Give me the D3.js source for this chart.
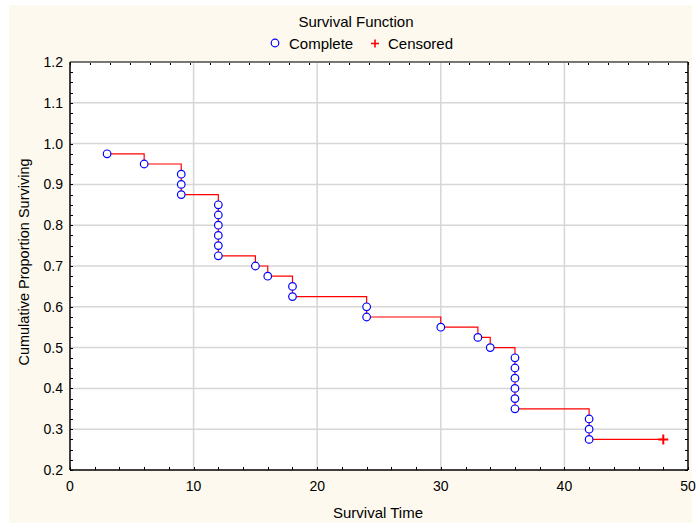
<!DOCTYPE html>
<html>
<head>
<meta charset="utf-8">
<script src="https://cdn.jsdelivr.net/npm/d3@7"></script>
<style>
  body { margin: 0; background: #ffffff; }
  svg text { font-family: "Liberation Sans", Arial, sans-serif; fill: #000; }
</style>
</head>
<body>
<svg width="696" height="525"></svg>
<script>
// survival data
var completeTimes = [3, 6, 9, 9, 9, 12, 12, 12, 12, 12, 12, 15, 16, 18, 18, 24, 24, 30, 33, 34, 36, 36, 36, 36, 36, 36, 42, 42, 42];
var completeSurv = [0.975, 0.95, 0.925, 0.9, 0.875, 0.85, 0.825, 0.8, 0.775, 0.75, 0.725, 0.7, 0.675, 0.65, 0.625,
  0.6, 0.575, 0.55, 0.525, 0.5, 0.475, 0.45, 0.425, 0.4, 0.375, 0.35, 0.325, 0.3, 0.275];
var censoredTimes = [48];
var censoredSurv = [0.275];
var xTicks = [0, 10, 20, 30, 40, 50];
var yTicks = [0.2, 0.3, 0.4, 0.5, 0.6, 0.7, 0.8, 0.9, 1.0, 1.1, 1.2];

var svg = d3.select("svg");
var margin = { left: 70, right: 8, top: 62, bottom: 55 };
var width = 696, height = 525;

var x = d3.scaleLinear().domain([0, 50]).range([margin.left, width - margin.right]);
var y = d3.scaleLinear().domain([0.2, 1.2]).range([height - margin.bottom, margin.top]);

// background panel
svg.append("rect").attr("x", 9).attr("y", 5).attr("width", 683).attr("height", 518).attr("fill", "#fdf9ee");
svg.append("rect").attr("x", x(0)).attr("y", y(1.2)).attr("width", x(50) - x(0)).attr("height", y(0.2) - y(1.2)).attr("fill", "#fff");

// grid
svg.append("g").selectAll("line").data(xTicks.slice(1, -1)).join("line")
  .attr("x1", d => x(d)).attr("x2", d => x(d)).attr("y1", y(1.2)).attr("y2", y(0.2))
  .attr("stroke", "#d6d6d6").attr("stroke-width", 1.5);
svg.append("g").selectAll("line").data(yTicks.slice(1, -1)).join("line")
  .attr("y1", d => y(d)).attr("y2", d => y(d)).attr("x1", x(0)).attr("x2", x(50))
  .attr("stroke", "#d6d6d6").attr("stroke-width", 1.5);

// minor ticks (inward)
var yMinor = d3.range(0, 41).map(i => 0.2 + i * 0.025);
var xMinor = d3.range(0, 26).map(i => i * 2);
var xTop = d3.range(0, 32).map(i => i * 50 / 31);
var ticks = svg.append("g").attr("stroke", "#000").attr("stroke-width", 1);
ticks.selectAll(".yl").data(yMinor).join("line").attr("class", "yl")
  .attr("x1", x(0)).attr("x2", x(0) + 3).attr("y1", d => Math.round(y(d)) + 0.5).attr("y2", d => Math.round(y(d)) + 0.5);
ticks.selectAll(".yr").data(yMinor).join("line").attr("class", "yr")
  .attr("x1", x(50)).attr("x2", x(50) - 3).attr("y1", d => Math.round(y(d)) + 0.5).attr("y2", d => Math.round(y(d)) + 0.5);
ticks.selectAll(".xb").data(xMinor).join("line").attr("class", "xb")
  .attr("y1", y(0.2)).attr("y2", y(0.2) - 3).attr("x1", d => Math.round(x(d)) + 0.5).attr("x2", d => Math.round(x(d)) + 0.5);
ticks.selectAll(".xt").data(xTop).join("line").attr("class", "xt")
  .attr("y1", y(1.2)).attr("y2", y(1.2) + 3).attr("x1", d => Math.round(x(d)) + 0.5).attr("x2", d => Math.round(x(d)) + 0.5);

// frame
svg.append("line").attr("x1", x(0)).attr("x2", x(50)).attr("y1", y(1.2)).attr("y2", y(1.2)).attr("stroke", "#777").attr("stroke-width", 2);
svg.append("line").attr("x1", x(0)).attr("x2", x(0)).attr("y1", y(1.2)).attr("y2", y(0.2)).attr("stroke", "#000").attr("stroke-width", 1.5);
svg.append("line").attr("x1", x(50)).attr("x2", x(50)).attr("y1", y(1.2)).attr("y2", y(0.2)).attr("stroke", "#000").attr("stroke-width", 1.5);
svg.append("line").attr("x1", x(0)).attr("x2", x(50)).attr("y1", y(0.2)).attr("y2", y(0.2)).attr("stroke", "#000").attr("stroke-width", 1.5);

// tick labels
svg.append("g").selectAll("text").data(yTicks).join("text")
  .attr("x", x(0) - 7).attr("y", d => y(d) + 5).attr("text-anchor", "end")
  .style("font-size", "14px").text(d => d3.format(".1f")(d));
svg.append("g").selectAll("text").data(xTicks).join("text")
  .attr("x", d => x(d)).attr("y", y(0.2) + 21).attr("text-anchor", "middle")
  .style("font-size", "14px").text(d => d);

// axis titles
svg.append("text").attr("x", 378).attr("y", 518).attr("text-anchor", "middle").style("font-size", "15px").text("Survival Time");
svg.append("text").attr("transform", "translate(29," + 262 + ") rotate(-90)").attr("text-anchor", "middle")
  .style("font-size", "14.5px").text("Cumulative Proportion Surviving");

// title & legend
svg.append("text").attr("x", 356).attr("y", 27).attr("text-anchor", "middle").style("font-size", "15px").text("Survival Function");
svg.append("circle").attr("cx", 275).attr("cy", 43).attr("r", 3.8).attr("fill", "#fff").attr("stroke", "#0000ff").attr("stroke-width", 1.2);
svg.append("text").attr("x", 289).attr("y", 49).style("font-size", "15px").text("Complete");
svg.append("path").attr("d", "M371,43.5h8M375,39.5v8").attr("stroke", "#ff0000").attr("stroke-width", 1.6);
svg.append("text").attr("x", 388).attr("y", 49).style("font-size", "15px").text("Censored");

// step line
var pts = completeTimes.map((t, i) => [t, completeSurv[i]])
  .concat(censoredTimes.map((t, i) => [t, censoredSurv[i]]));
var line = d3.line().x(d => x(d[0])).y(d => y(d[1])).curve(d3.curveStepAfter);
svg.append("path").datum(pts).attr("d", line).attr("fill", "none").attr("stroke", "#ff0000").attr("stroke-width", 1.2);

// markers
svg.append("g").selectAll("circle").data(completeTimes).join("circle")
  .attr("cx", d => x(d)).attr("cy", (d, i) => y(completeSurv[i])).attr("r", 3.8)
  .attr("fill", "#fff").attr("stroke", "#0000ff").attr("stroke-width", 1.2);
svg.append("g").selectAll("path").data(censoredTimes).join("path")
  .attr("d", (d, i) => "M" + (x(d) - 5) + "," + y(censoredSurv[i]) + "h10M" + x(d) + "," + (y(censoredSurv[i]) - 5) + "v10")
  .attr("stroke", "#ff0000").attr("stroke-width", 2);
</script>
</body>
</html>
